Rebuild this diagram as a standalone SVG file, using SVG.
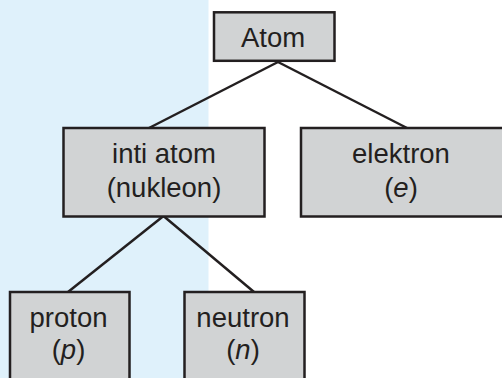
<svg xmlns="http://www.w3.org/2000/svg" width="502" height="378" viewBox="0 0 502 378">
<style>
.box{fill:#d1d3d4;stroke:#231f20;stroke-width:2.5}
.lbl{font-family:"Liberation Sans",Arial,sans-serif;font-size:27.5px;fill:#231f20;text-anchor:middle}
.it{font-style:italic}
.conn{stroke:#231f20;stroke-width:2.5;fill:none}
</style>
<rect x="0" y="0" width="208.5" height="378" fill="#dff1fb"/>
<g id="connectors">
<line class="conn" x1="278" y1="62" x2="149" y2="128"/>
<line class="conn" x1="278" y1="62" x2="407" y2="128"/>
<line class="conn" x1="163.5" y1="216" x2="68" y2="292"/>
<line class="conn" x1="163.5" y1="216" x2="254" y2="292"/>
</g>
<g id="atom">
<rect class="box" x="214" y="12.3" width="120.5" height="48.5"/>
<text class="lbl" x="273" y="46.5">Atom</text>
</g>
<g id="inti-atom">
<rect class="box" x="63.5" y="128" width="201" height="88.5"/>
<text class="lbl" x="164" y="163">inti atom</text>
<text class="lbl" x="164" y="196.5">(nukleon)</text>
</g>
<g id="elektron">
<rect class="box" x="301" y="128" width="210" height="88.5"/>
<text class="lbl" x="401" y="163">elektron</text>
<text class="lbl" x="401" y="196.5">(<tspan class="it">e</tspan>)</text>
</g>
<g id="proton">
<rect class="box" x="10" y="292" width="119.5" height="100"/>
<text class="lbl" x="68.5" y="326.7">proton</text>
<text class="lbl" x="68.5" y="359">(<tspan class="it">p</tspan>)</text>
</g>
<g id="neutron">
<rect class="box" x="184.5" y="292" width="120" height="100"/>
<text class="lbl" x="243" y="326.7">neutron</text>
<text class="lbl" x="243" y="359">(<tspan class="it">n</tspan>)</text>
</g>
</svg>
